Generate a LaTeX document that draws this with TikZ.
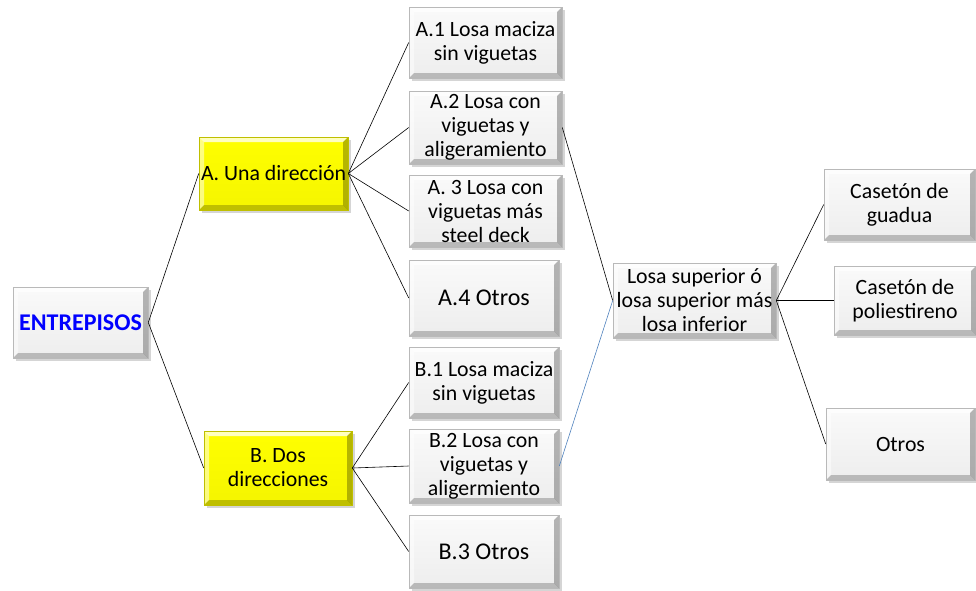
\documentclass[tikz,border=0pt]{standalone}
\usepackage{fontspec}
\setmainfont{Carlito}
\usetikzlibrary{shadows}
\definecolor{linkblue}{RGB}{79,129,189}
\definecolor{yel}{RGB}{255,255,0}
\tikzset{
  x=1pt, y=-1pt,
  box/.style={rectangle, draw=gray!55, line width=0.6pt,
    top color=gray!4, bottom color=gray!14,
    drop shadow={shadow xshift=2.5pt, shadow yshift=-2.5pt, fill=gray!65},
    align=center, inner sep=0pt, font=\fontsize{21.8}{24}\selectfont,
    path picture={
      \fill[white,opacity=.75] (path picture bounding box.north west) -- (path picture bounding box.north east)
        -- ([xshift=-5pt,yshift=-5pt]path picture bounding box.north east) -- ([xshift=5pt,yshift=-5pt]path picture bounding box.north west) -- cycle;
      \fill[white,opacity=.5] (path picture bounding box.north west) -- (path picture bounding box.south west)
        -- ([xshift=5pt,yshift=5pt]path picture bounding box.south west) -- ([xshift=5pt,yshift=-5pt]path picture bounding box.north west) -- cycle;
      \fill[black,opacity=.22] (path picture bounding box.south west) -- (path picture bounding box.south east)
        -- ([xshift=-5pt,yshift=5pt]path picture bounding box.south east) -- ([xshift=5pt,yshift=5pt]path picture bounding box.south west) -- cycle;
      \fill[black,opacity=.28] (path picture bounding box.north east) -- (path picture bounding box.south east)
        -- ([xshift=-5pt,yshift=5pt]path picture bounding box.south east) -- ([xshift=-5pt,yshift=-5pt]path picture bounding box.north east) -- cycle;
    }},
  ybox/.style={box, draw=yel!75!black, top color=yel, bottom color=yel!96!black},
  bigtext/.style={font=\fontsize{24}{26}\selectfont},
  conn/.style={draw=black, line width=0.6pt},
  bconn/.style={draw=linkblue, line width=0.6pt}
}
\begin{document}
\begin{tikzpicture}
\useasboundingbox (0,0) rectangle (976,590);

\node[box, minimum width=135pt, minimum height=71pt, font=\fontsize{24}{26}\selectfont\bfseries, text=blue] (ent) at (80.5,322.5) {ENTREPISOS};
\node[ybox, minimum width=149pt, minimum height=73pt] (A) at (273.5,173.5) {A. Una dirección};
\node[ybox, minimum width=148pt, minimum height=74pt] (B) at (278,468) {B. Dos\\direcciones};

\node[box, minimum width=153pt, minimum height=71pt] (A1) at (485.5,42.5) {A.1 Losa maciza\\sin viguetas};
\node[box, minimum width=153pt, minimum height=73pt] (A2) at (485.5,127.5) {A.2 Losa con\\viguetas y\\aligeramiento};
\node[box, minimum width=153pt, minimum height=72pt] (A3) at (485.5,211) {A. 3 Losa con\\viguetas más\\steel deck};
\node[box, bigtext, minimum width=150pt, minimum height=76pt] (A4) at (484,298) {A.4 Otros};

\node[box, minimum width=150pt, minimum height=71pt] (B1) at (484,382.5) {B.1 Losa maciza\\sin viguetas};
\node[box, minimum width=150pt, minimum height=74pt] (B2) at (484,466) {B.2 Losa con\\viguetas y\\aligermiento};
\node[box, bigtext, minimum width=150pt, minimum height=73pt] (B3) at (484,551.5) {B.3 Otros};

\node[box, minimum width=163pt, minimum height=75pt] (L) at (694.5,300.5) {Losa superior ó\\losa superior más\\losa inferior};

\node[box, minimum width=151pt, minimum height=71pt] (C1) at (899.5,204.5) {Casetón de\\guadua};
\node[box, minimum width=142pt, minimum height=69pt] (C2) at (905,300.5) {Casetón de\\poliestireno};
\node[box, minimum width=149pt, minimum height=72pt] (C3) at (900.5,444) {Otros};

\draw[conn] (ent.east) -- (A.west);
\draw[conn] (ent.east) -- (B.west);
\foreach \t in {A1,A2,A3,A4} \draw[conn] (A.east) -- (\t.west);
\foreach \t in {B1,B2,B3} \draw[conn] (B.east) -- (\t.west);
\draw[conn] (A2.east) -- (L.west);
\draw[bconn] (B2.east) -- (L.west);
\foreach \t in {C1,C2,C3} \draw[conn] (L.east) -- (\t.west);
\end{tikzpicture}
\end{document}
